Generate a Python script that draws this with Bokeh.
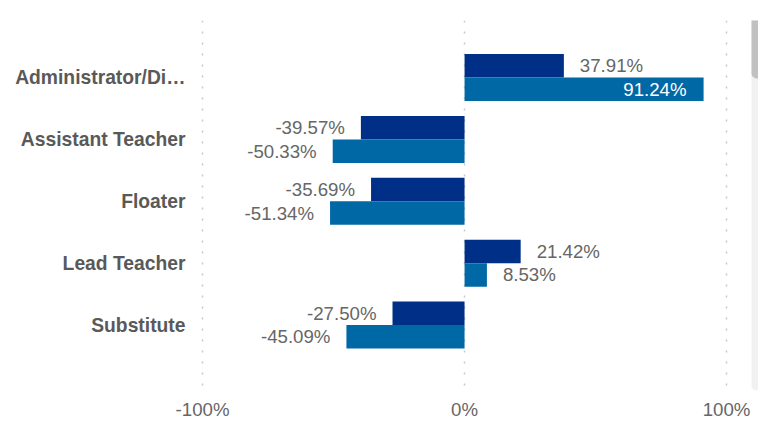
from bokeh.plotting import figure
from bokeh.models import Range1d, FixedTicker, PrintfTickFormatter, BoxAnnotation, ColumnDataSource
from bokeh.core.properties import value
from bokeh.embed import file_html
from bokeh.resources import INLINE

categories = ["Administrator/Di…", "Assistant Teacher", "Floater", "Lead Teacher", "Substitute"]
series_a = [37.91, -39.57, -35.69, 21.42, -27.50]
series_b = [91.24, -50.33, -51.34, 8.53, -45.09]
x_ticks = [-100, 0, 100]

DARK = "#002f87"
LIGHT = "#0068a5"
FONT = "Liberation Sans"

idx = list(range(len(categories)))
half = 0.19
bar_h = 0.38

p = figure(width=758, height=430, output_backend="svg", toolbar_location=None,
           x_range=Range1d(-102.7, 112.2), y_range=Range1d(5.089, -0.921),
           min_border_left=195, min_border_right=0, min_border_top=20, min_border_bottom=38)
p.outline_line_color = None
p.background_fill_color = "white"
p.border_fill_color = "white"

ya = [i - half for i in idx]
yb = [i + half for i in idx]
p.hbar(y=ya, left=0, right=series_a, height=bar_h, fill_color=DARK, line_color=None)
p.hbar(y=yb, left=0, right=series_b, height=bar_h, fill_color=LIGHT, line_color=None)

def label_data(vals, ys):
    xs, yy, texts, offs, aligns, colors = [], [], [], [], [], []
    for v, y in zip(vals, ys):
        inside = abs(v) > 75
        xs.append(v); yy.append(y); texts.append("%.2f%%" % v)
        if inside:
            offs.append(-17 if v > 0 else 17)
            aligns.append("right" if v > 0 else "left")
            colors.append("white")
        else:
            offs.append(16 if v >= 0 else -16)
            aligns.append("left" if v >= 0 else "right")
            colors.append("#666666")
    return ColumnDataSource(dict(x=xs, y=yy, text=texts, xo=offs, al=aligns, c=colors))

for src in (label_data(series_a, ya), label_data(series_b, yb)):
    p.text(x="x", y="y", text="text", x_offset="xo", text_align="al", text_color="c",
           text_baseline="middle", text_font=value(FONT), text_font_size="14pt", source=src)

# axes
p.xaxis.ticker = FixedTicker(ticks=x_ticks)
p.xaxis.formatter = PrintfTickFormatter(format="%d%%")
p.xaxis.axis_line_color = None
p.xaxis.major_tick_line_color = None
p.xaxis.minor_tick_line_color = None
p.xaxis.major_tick_out = 0
p.xaxis.major_label_standoff = 6
p.xaxis.major_label_text_font = FONT
p.xaxis.major_label_text_font_size = "14pt"
p.xaxis.major_label_text_color = "#666666"

p.yaxis.ticker = FixedTicker(ticks=idx)
p.yaxis.major_label_overrides = {i: c for i, c in zip(idx, categories)}
p.yaxis.axis_line_color = None
p.yaxis.major_tick_line_color = None
p.yaxis.minor_tick_line_color = None
p.yaxis.major_tick_out = 0
p.yaxis.major_label_standoff = 10
p.yaxis.major_label_text_font = FONT
p.yaxis.major_label_text_font_size = "19.3px"
p.yaxis.major_label_text_font_style = "bold"
p.yaxis.major_label_text_color = "#595959"

p.ygrid.grid_line_color = None
p.xgrid.grid_line_color = "#c8c8c8"
p.xgrid.grid_line_dash = "2 9"
p.xgrid.grid_line_width = 1.5

# scrollbar decoration
track = BoxAnnotation(left=751, right=762, top=14, bottom=390,
                      left_units="canvas", right_units="canvas", top_units="canvas", bottom_units="canvas",
                      fill_color="#f1f1f1", fill_alpha=1, line_color=None, border_radius=5)
thumb = BoxAnnotation(left=751, right=762, top=14, bottom=78,
                      left_units="canvas", right_units="canvas", top_units="canvas", bottom_units="canvas",
                      fill_color="#c1c1c1", fill_alpha=1, line_color=None, border_radius=5)
p.add_layout(track)
p.add_layout(thumb)

open("out.html", "w").write(file_html(p, INLINE))
